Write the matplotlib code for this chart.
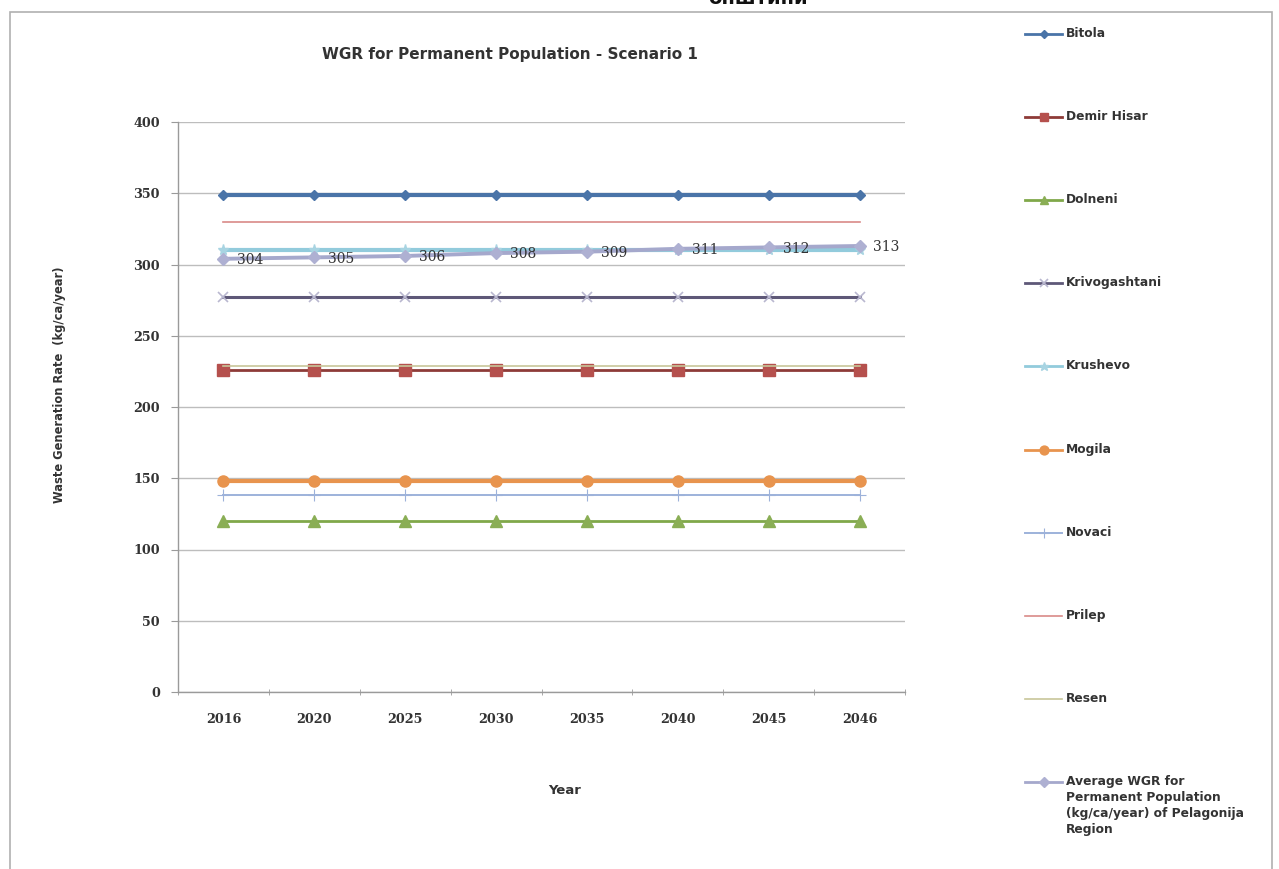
import matplotlib
matplotlib.use("Agg")
import matplotlib.pyplot as plt
from matplotlib.lines import Line2D
from matplotlib.patches import Rectangle

years = ["2016", "2020", "2025", "2030", "2035", "2040", "2045", "2046"]

bitola = [349, 349, 349, 349, 349, 349, 349, 349]
demir_hisar = [226, 226, 226, 226, 226, 226, 226, 226]
dolneni = [120, 120, 120, 120, 120, 120, 120, 120]
krivogashtani = [277, 277, 277, 277, 277, 277, 277, 277]
krushevo = [310, 310, 310, 310, 310, 310, 310, 310]
mogila = [148, 148, 148, 148, 148, 148, 148, 148]
novaci = [138, 138, 138, 138, 138, 138, 138, 138]
prilep = [330, 330, 330, 330, 330, 330, 330, 330]
resen = [229, 229, 229, 229, 229, 229, 229, 229]
average = [304, 305, 306, 308, 309, 311, 312, 313]

series_names = ["Bitola", "Demir Hisar", "Dolneni", "Krivogashtani", "Krushevo",
                "Mogila", "Novaci", "Prilep", "Resen",
                "Average WGR for\nPermanent Population\n(kg/ca/year) of Pelagonija\nRegion"]
series_values = [bitola, demir_hisar, dolneni, krivogashtani, krushevo,
                 mogila, novaci, prilep, resen, average]

styles = [
    dict(color="#4A74A8", lw=3.0, marker="D", ms=5.5, mfc="#4A74A8", mec="#4A74A8"),
    dict(color="#8E3B38", lw=2.0, marker="s", ms=8, mfc="#B5504D", mec="#B5504D"),
    dict(color="#80A84A", lw=2.0, marker="^", ms=8, mfc="#8AAE55", mec="#8AAE55"),
    dict(color="#5E5878", lw=2.2, marker="x", ms=7, mfc="none", mec="#B9B7CF", mew=1.2),
    dict(color="#92CBDC", lw=3.0, marker="*", ms=8, mfc="#A8D4E2", mec="#A8D4E2"),
    dict(color="#E8944E", lw=3.0, marker="o", ms=8, mfc="#E8944E", mec="#E8944E"),
    dict(color="#9DB2DA", lw=1.4, marker="+", ms=9, mfc="none", mec="#9DB2DA", mew=0.8),
    dict(color="#D98A88", lw=1.2, marker=None),
    dict(color="#C8C69A", lw=1.2, marker=None),
    dict(color="#A5A8CC", lw=2.8, marker="D", ms=6.5, mfc="#AEB0D2", mec="#AEB0D2"),
]

TEXT = "#333333"
SANS = "DejaVu Sans"
SERIF = "DejaVu Serif"

W, H = 1279, 869
fig = plt.figure(figsize=(W / 100, H / 100), dpi=100)
fig.patch.set_facecolor("white")

# chart frame
fig.patches.append(Rectangle((10 / W, -0.01), 1262 / W, 1 - 12 / H + 0.01,
                             transform=fig.transFigure, fill=False,
                             edgecolor="#B0B0B0", lw=1.2))

ax = fig.add_axes([178 / W, 1 - 692 / H, 727 / W, 570 / H])
x = list(range(len(years)))

for vals, st in zip(series_values, styles):
    ax.plot(x, vals, zorder=3, **st)

for xi, v in zip(x, average):
    ax.annotate(str(v), (xi, v), xytext=(10, -1), textcoords="offset points",
                ha="left", va="center", fontsize=10, family=SERIF,
                color=TEXT, zorder=4)

ax.set_xlim(-0.5, len(years) - 0.5)
ax.set_ylim(0, 400)
ax.set_yticks(range(0, 401, 50))
ax.set_xticks(x)
ax.set_xticklabels(years, family=SERIF, fontweight="bold", fontsize=9.2, color=TEXT)
ax.set_yticklabels([str(v) for v in range(0, 401, 50)], family=SERIF,
                   fontweight="bold", fontsize=9.2, color=TEXT)
ax.set_xticks([i - 0.5 for i in range(len(years) + 1)], minor=True)
ax.tick_params(axis="x", which="major", length=0, pad=15)
ax.tick_params(axis="x", which="minor", length=5, direction="inout", color="#9A9A9A")
ax.tick_params(axis="y", length=5, direction="out", color="#9A9A9A", pad=8)
ax.grid(axis="y", color="#BDBDBD", lw=1.0, zorder=0)
for side in ("top", "right"):
    ax.spines[side].set_visible(False)
for side in ("left", "bottom"):
    ax.spines[side].set_color("#9A9A9A")
    ax.spines[side].set_linewidth(1.0)

fig.text(510 / W, 1 - 55 / H, "WGR for Permanent Population - Scenario 1",
         ha="center", va="center", family=SANS, fontweight="bold", fontsize=11,
         color=TEXT)
fig.text(60 / W, 1 - 385 / H, "Waste Generation Rate  (kg/ca/year)", rotation=90,
         ha="center", va="center", family=SANS, fontweight="bold", fontsize=8.3,
         color=TEXT)
fig.text(565 / W, 1 - 791 / H, "Year", ha="center", va="center", family=SANS,
         fontweight="bold", fontsize=9.5, color=TEXT)
fig.text(758 / W, 1 + 2 / H, "општини", ha="center", va="center",
         family=SANS, fontweight="bold", fontsize=14, color="#111111")

# legend
leg_y = [34, 117, 200, 283, 366, 450, 533, 616, 699, 782]
for name, st, yy in zip(series_names, styles, leg_y):
    yf = 1 - yy / H
    fig.add_artist(Line2D([1025 / W, 1062 / W], [yf, yf], transform=fig.transFigure,
                          color=st["color"], lw=min(st["lw"], 2.0)))
    if st.get("marker"):
        fig.add_artist(Line2D([1043.5 / W], [yf], transform=fig.transFigure, lw=0,
                              marker=st["marker"], ms=st["ms"] * 0.8,
                              mfc=st.get("mfc"), mec=st.get("mec"),
                              mew=st.get("mew", 1.0)))
    fig.text(1066 / W, yf + 7 / H, name, ha="left", va="top", family=SANS,
             fontweight="bold", fontsize=8.8, color=TEXT, linespacing=1.3)

fig.savefig("out.png", dpi=100, facecolor="white")
